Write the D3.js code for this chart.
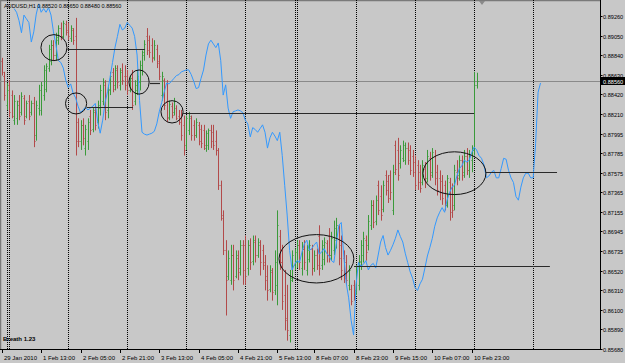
<!DOCTYPE html>
<html>
<head>
<meta charset="utf-8">
<script src="https://cdn.jsdelivr.net/npm/d3@7/dist/d3.min.js"></script>
<style>
  html, body { margin: 0; padding: 0; background: #c8c8c8; }
  svg { display: block; }
  text { font-family: "Liberation Sans", Arial, sans-serif; }
</style>
</head>
<body>
<svg id="chart"></svg>
<script>
// header text
var chartTitle = 'AUDUSD,H1  0.88520 0.88650 0.88480 0.88560';
var indicatorName = 'Breath 1.23';
var lastPrice = 0.88560;

// H1 bars, oldest first (bar 0 = 29 Jan 2010 evening)
var opens = [
  .8878, .8862, .8830, .8852, .8841, .8814, .8816, .8835, .8823, .8838,
  .8819, .8835, .8823, .8833, .8798, .8827, .8825, .8841, .8848, .8870,
  .8878, .8895, .8884, .8900, .8913, .8905, .8917, .8911, .8902, .8911,
  .8905, .8812, .8792, .8809, .8784, .8792, .8819, .8805, .8825, .8812,
  .8827, .8835, .8852, .8825, .8846, .8866, .8852, .8868, .8852, .8868,
  .8862, .8862, .8846, .8859, .8835, .8846, .8855, .8868, .8884, .8905,
  .8900, .8895, .8882, .8891, .8878, .8841, .8857, .8835, .8817, .8829,
  .8823, .8827, .8819, .8816, .8809, .8787, .8803, .8816, .8809, .8798,
  .8809, .8805, .8803, .8784, .8787, .8803, .8801, .8792, .8782, .8744,
  .8712, .8674, .8647, .8642, .8669, .8647, .8666, .8655, .8680, .8680,
  .8655, .8680, .8663, .8683, .8669, .8680, .8674, .8661, .8647, .8633,
  .8651, .8631, .8637, .8690, .8661, .8626, .8601, .8583, .8644, .8658,
  .8661, .8680, .8655, .8676, .8653, .8665, .8676, .8655, .8669, .8690,
  .8658, .8665, .8682, .8690, .8669, .8674, .8685, .8698, .8680, .8666,
  .8661, .8637, .8633, .8637, .8631, .8637, .8661, .8669, .8685, .8680,
  .8701, .8723, .8706, .8744, .8733, .8719, .8755, .8749, .8755, .8717,
  .8787, .8782, .8768, .8773, .8771, .8784, .8782, .8776, .8769, .8766,
  .8758, .8747, .8762, .8752, .8773, .8758, .8776, .8758, .8752, .8749,
  .8744, .8723, .8747, .8741, .8723, .8758, .8755, .8771, .8758, .8776,
  .8760, .8771, .8782, .8852
];
var highs = [
  .8881, .8866, .8854, .8857, .8846, .8841, .8835, .8841, .8844, .8841,
  .8835, .8841, .8835, .8839, .8835, .8852, .8855, .8873, .8875, .8895,
  .8900, .8900, .8908, .8916, .8919, .8921, .8921, .8919, .8916, .8913,
  .8924, .8816, .8814, .8816, .8809, .8816, .8825, .8827, .8830, .8835,
  .8852, .8859, .8857, .8852, .8866, .8870, .8873, .8873, .8870, .8875,
  .8873, .8868, .8862, .8868, .8857, .8868, .8878, .8889, .8900, .8913,
  .8905, .8902, .8900, .8895, .8884, .8866, .8859, .8857, .8835, .8833,
  .8838, .8830, .8825, .8825, .8819, .8819, .8823, .8819, .8814, .8816,
  .8812, .8809, .8809, .8803, .8805, .8809, .8809, .8803, .8784, .8749,
  .8717, .8685, .8674, .8680, .8680, .8674, .8674, .8685, .8685, .8690,
  .8685, .8687, .8690, .8690, .8687, .8685, .8680, .8669, .8658, .8658,
  .8655, .8674, .8717, .8696, .8680, .8653, .8637, .8653, .8674, .8676,
  .8685, .8685, .8683, .8685, .8680, .8685, .8680, .8674, .8676, .8701,
  .8685, .8688, .8685, .8698, .8694, .8706, .8709, .8701, .8690, .8674,
  .8669, .8658, .8637, .8642, .8658, .8669, .8685, .8694, .8690, .8712,
  .8728, .8728, .8733, .8749, .8744, .8749, .8760, .8755, .8760, .8766,
  .8792, .8795, .8787, .8792, .8790, .8790, .8787, .8782, .8776, .8771,
  .8766, .8771, .8769, .8782, .8780, .8784, .8782, .8766, .8760, .8755,
  .8749, .8755, .8752, .8746, .8766, .8771, .8776, .8776, .8782, .8784,
  .8782, .8787, .8866, .8865
];
var lows = [
  .8862, .8835, .8825, .8817, .8816, .8809, .8809, .8814, .8819, .8809,
  .8816, .8814, .8819, .8785, .8792, .8819, .8819, .8835, .8844, .8866,
  .8873, .8878, .8878, .8895, .8900, .8902, .8905, .8900, .8898, .8895,
  .8776, .8785, .8782, .8787, .8776, .8782, .8798, .8801, .8803, .8805,
  .8819, .8830, .8814, .8816, .8841, .8844, .8846, .8848, .8846, .8852,
  .8846, .8841, .8844, .8825, .8830, .8841, .8846, .8862, .8878, .8884,
  .8881, .8876, .8878, .8870, .8857, .8835, .8825, .8812, .8814, .8816,
  .8819, .8814, .8809, .8792, .8776, .8782, .8798, .8792, .8792, .8795,
  .8787, .8784, .8782, .8780, .8782, .8784, .8782, .8776, .8739, .8706,
  .8669, .8604, .8642, .8637, .8631, .8644, .8642, .8647, .8637, .8637,
  .8647, .8653, .8658, .8661, .8666, .8647, .8653, .8631, .8620, .8629,
  .8620, .8626, .8615, .8653, .8610, .8588, .8577, .8575, .8640, .8653,
  .8655, .8653, .8647, .8653, .8647, .8661, .8647, .8651, .8653, .8647,
  .8653, .8658, .8661, .8661, .8663, .8669, .8676, .8658, .8642, .8639,
  .8637, .8631, .8615, .8620, .8626, .8631, .8653, .8661, .8663, .8674,
  .8696, .8698, .8701, .8712, .8706, .8715, .8733, .8725, .8728, .8712,
  .8755, .8749, .8762, .8769, .8766, .8766, .8755, .8753, .8739, .8739,
  .8736, .8744, .8741, .8747, .8749, .8752, .8744, .8733, .8728, .8723,
  .8717, .8720, .8706, .8709, .8717, .8744, .8749, .8749, .8752, .8755,
  .8752, .8758, .8776, .8848
];
var closes = [
  .8866, .8841, .8846, .8823, .8819, .8835, .8830, .8819, .8840, .8814,
  .8832, .8819, .8833, .8792, .8830, .8846, .8852, .8868, .8872, .8891,
  .8895, .8884, .8903, .8913, .8905, .8918, .8909, .8904, .8913, .8900,
  .8792, .8792, .8809, .8795, .8805, .8812, .8803, .8823, .8809, .8830,
  .8846, .8855, .8823, .8848, .8862, .8848, .8870, .8855, .8866, .8857,
  .8852, .8846, .8859, .8830, .8852, .8862, .8873, .8887, .8896, .8889,
  .8887, .8881, .8895, .8876, .8862, .8861, .8830, .8816, .8831, .8820,
  .8835, .8816, .8812, .8798, .8782, .8816, .8819, .8798, .8798, .8812,
  .8792, .8790, .8787, .8800, .8803, .8792, .8787, .8782, .8744, .8709,
  .8674, .8642, .8666, .8669, .8642, .8669, .8651, .8680, .8653, .8647,
  .8680, .8661, .8685, .8669, .8683, .8661, .8658, .8642, .8631, .8653,
  .8629, .8661, .8701, .8661, .8620, .8599, .8588, .8642, .8669, .8672,
  .8680, .8661, .8676, .8661, .8674, .8680, .8655, .8669, .8658, .8655,
  .8680, .8683, .8669, .8669, .8687, .8698, .8701, .8666, .8653, .8644,
  .8642, .8653, .8620, .8626, .8653, .8663, .8680, .8687, .8672, .8706,
  .8723, .8704, .8728, .8717, .8712, .8744, .8739, .8730, .8737, .8758,
  .8762, .8755, .8782, .8787, .8784, .8771, .8760, .8758, .8744, .8747,
  .8741, .8766, .8749, .8776, .8755, .8780, .8752, .8739, .8737, .8730,
  .8723, .8752, .8715, .8717, .8760, .8752, .8771, .8755, .8776, .8760,
  .8776, .8782, .8852, .8856
];

// blue indicator line, one value per bar starting at bar 5 (runs past the last bar)
var blueStart = 5;
var blueLine = [
  .8934, .8930, .8921, .8908, .8927, .8923, .8919, .8898, .8909, .8928,
  .8939, .8930, .8934, .8930, .8935, .8927, .8909, .8895, .8878, .8876,
  .8870, .8857, .8849, .8853, .8843, .8838, .8829, .8822, .8825, .8828,
  .8825, .8827, .8829, .8832, .8812, .8800, .8814, .8833, .8845, .8860,
  .8876, .8892, .8904, .8917, .8911, .8913, .8919, .8916, .8913, .8904,
  .8884, .8835, .8801, .8799, .8798, .8799, .8800, .8802, .8810, .8823,
  .8833, .8844, .8854, .8853, .8856, .8859, .8862, .8863, .8866, .8867,
  .8868, .8868, .8863, .8856, .8848, .8849, .8859, .8868, .8884, .8896,
  .8900, .8896, .8892, .8897, .8878, .8841, .8852, .8827, .8816, .8823,
  .8824, .8825, .8824, .8822, .8814, .8810, .8796, .8806, .8804, .8801,
  .8805, .8809, .8801, .8784, .8795, .8801, .8797, .8792, .8801, .8776,
  .8744, .8712, .8674, .8653, .8659, .8663, .8661, .8672, .8681, .8685,
  .8674, .8676, .8680, .8683, .8670, .8672, .8676, .8671, .8668, .8663,
  .8661, .8682, .8701, .8704, .8669, .8639, .8623, .8599, .8583, .8637,
  .8661, .8657, .8659, .8663, .8653, .8658, .8660, .8655, .8669, .8683,
  .8690, .8677, .8669, .8674, .8680, .8687, .8696, .8689, .8683, .8671,
  .8661, .8651, .8644, .8634, .8631, .8638, .8643, .8655, .8668, .8677,
  .8687, .8700, .8709, .8715, .8720, .8715, .8728, .8736, .8742, .8744,
  .8754, .8762, .8765, .8771, .8769, .8771, .8779, .8785, .8782, .8776,
  .8773, .8766, .8752, .8754, .8758, .8760, .8752, .8752, .8762, .8773,
  .8772, .8760, .8752, .8747, .8732, .8728, .8742, .8752, .8757, .8757,
  .8752, .8752, .8789, .8844, .8854
];

// price scale labels
var priceTicks = ['0.89260', '0.89050', '0.88840', '0.88630', '0.88420', '0.88210',
  '0.87995', '0.87785', '0.87575', '0.87365', '0.87155', '0.86945', '0.86735',
  '0.86520', '0.86310', '0.86100', '0.85890', '0.85680'];

// time scale labels and the bar each one sits on
var timeLabels = ['29 Jan 2010', '1 Feb 13:00', '2 Feb 05:00', '2 Feb 21:00', '3 Feb 13:00',
  '4 Feb 05:00', '4 Feb 21:00', '5 Feb 13:00', '8 Feb 07:00', '8 Feb 23:00',
  '9 Feb 15:00', '10 Feb 07:00', '10 Feb 23:00'];
var timeLabelBars = [0, 16, 32, 48, 64, 80, 96, 112, 127, 143, 159, 175, 191];

// day separators (first bar of each day)
var separatorBars = [2, 3, 27, 51, 75, 99, 119, 120, 144, 168, 192, 216];

// drawn objects: ellipses (centre bar, centre price, radius in bars, radius in price)
var ellipseBars = [21.2, 30.2, 55.8, 69.2, 127.9, 184.0];
var ellipsePrices = [.8892, .8832, .8855, .8823, .8665, .8757];
var ellipseBarRadius = [5.3, 4.3, 4.1, 4.5, 15.2, 12.8];
var ellipsePriceRadius = [.0014, .00113, .0013, .0012, .0026, .0023];

// drawn horizontal segments (from bar, to bar, price)
var segFrom = [26.7, 34.6, 60.2, 73.7, 143.2, 196.8];
var segTo = [58.2, 53.3, 64.3, 192, 222.8, 225.7];
var segPrice = [.8891, .8828, .8854, .8822, .8657, .8758];

var width = 625, height = 363;
var plotRight = 600, plotBottom = 349;
var upColor = '#3a9a3a', downColor = '#b24a4a', blueColor = '#3399ff';

var x = d3.scaleLinear().domain([0, 100]).range([1.8, 247.8]);
var y = d3.scaleLinear().domain([0.8568, 0.8926]).range([349, 16]);

var svg = d3.select('#chart')
  .attr('width', width)
  .attr('height', height);

svg.append('rect')
  .attr('width', width).attr('height', height)
  .attr('fill', '#c8c8c8');

svg.append('defs').append('clipPath').attr('id', 'plot-clip')
  .append('rect').attr('x', 0).attr('y', 0).attr('width', plotRight).attr('height', plotBottom);

var plot = svg.append('g').attr('clip-path', 'url(#plot-clip)');

// frame top / left
plot.append('path')
  .attr('d', 'M0.5,' + plotBottom + 'V0.5H' + plotRight)
  .attr('fill', 'none')
  .attr('stroke', '#7a7a7a')
  .attr('stroke-width', 1.5);

// period separators
plot.selectAll('line.sep')
  .data(separatorBars)
  .enter().append('line')
  .attr('class', 'sep')
  .attr('x1', function(d) { return Math.round(x(d)) + 0.5; })
  .attr('x2', function(d) { return Math.round(x(d)) + 0.5; })
  .attr('y1', 0).attr('y2', plotBottom)
  .attr('stroke', '#000')
  .attr('stroke-dasharray', '1,1')
  .attr('shape-rendering', 'crispEdges');

// bid line
plot.append('line')
  .attr('x1', 0).attr('x2', plotRight)
  .attr('y1', Math.round(y(lastPrice)) + 0.5).attr('y2', Math.round(y(lastPrice)) + 0.5)
  .attr('stroke', '#8a8a8a');

// OHLC bars
var bars = opens.map(function(o, i) {
  return { i: i, o: o, h: highs[i], l: lows[i], c: closes[i] };
});

plot.selectAll('path.bar')
  .data(bars)
  .enter().append('path')
  .attr('class', 'bar')
  .attr('d', function(d) {
    var cx = Math.round(x(d.i)) + 0.5;
    var yo = Math.round(y(d.o)) + 0.5, yc = Math.round(y(d.c)) + 0.5;
    return 'M' + cx + ',' + y(d.h) + 'V' + y(d.l) +
      'M' + (cx - 1) + ',' + yo + 'H' + cx +
      'M' + cx + ',' + yc + 'H' + (cx + 1);
  })
  .attr('fill', 'none')
  .attr('stroke', function(d) { return d.c >= d.o ? upColor : downColor; })
  .attr('stroke-width', 1);

// indicator line
var blueGen = d3.line()
  .x(function(d, k) { return x(blueStart + k); })
  .y(function(d) { return y(d); });

plot.append('path')
  .datum(blueLine)
  .attr('d', blueGen)
  .attr('fill', 'none')
  .attr('stroke', blueColor)
  .attr('stroke-width', 1);

// ellipses and horizontal segments
plot.selectAll('ellipse.obj')
  .data(ellipseBars)
  .enter().append('ellipse')
  .attr('class', 'obj')
  .attr('cx', function(d) { return x(d); })
  .attr('cy', function(d, k) { return y(ellipsePrices[k]); })
  .attr('rx', function(d, k) { return x(ellipseBarRadius[k]) - x(0); })
  .attr('ry', function(d, k) { return y(ellipsePrices[k] - ellipsePriceRadius[k]) - y(ellipsePrices[k]); })
  .attr('fill', 'none')
  .attr('stroke', '#111')
  .attr('stroke-width', 1);

plot.selectAll('line.seg')
  .data(segPrice)
  .enter().append('line')
  .attr('class', 'seg')
  .attr('x1', function(d, k) { return x(segFrom[k]); })
  .attr('x2', function(d, k) { return x(segTo[k]); })
  .attr('y1', function(d) { return Math.round(y(d)) + 0.5; })
  .attr('y2', function(d) { return Math.round(y(d)) + 0.5; })
  .attr('stroke', '#2a2a2a')
  .attr('stroke-width', 1.2);

// chart shift marker
plot.append('path')
  .attr('d', 'M479,1L485,1L482,5Z')
  .attr('fill', '#8a8a8a');

// title and indicator name
svg.append('text')
  .attr('x', 4).attr('y', 8)
  .attr('font-size', 5.5)
  .attr('fill', '#000')
  .text(chartTitle);

svg.append('text')
  .attr('x', 3).attr('y', 341)
  .attr('font-size', 6)
  .attr('font-weight', 'bold')
  .attr('font-family', '"DejaVu Sans Mono", monospace')
  .attr('fill', '#000')
  .text(indicatorName);

// axes
svg.append('path')
  .attr('d', 'M' + (plotRight + 0.5) + ',0V' + (plotBottom + 0.5) + 'H0')
  .attr('fill', 'none')
  .attr('stroke', '#000')
  .attr('stroke-width', 1);

var yTicks = svg.append('g').selectAll('g')
  .data(priceTicks)
  .enter().append('g')
  .attr('transform', function(d) { return 'translate(' + plotRight + ',' + Math.round(y(+d)) + ')'; });

yTicks.append('line')
  .attr('x1', 0).attr('x2', 2.5)
  .attr('y1', 0.5).attr('y2', 0.5)
  .attr('stroke', '#000');

yTicks.append('text')
  .attr('x', 3).attr('y', 2.5)
  .attr('font-size', 5.6)
  .attr('fill', '#000')
  .text(function(d) { return d; });

// last price box
var lp = Math.round(y(lastPrice));
svg.append('rect')
  .attr('x', plotRight + 1).attr('y', lp - 4)
  .attr('width', 24).attr('height', 8)
  .attr('fill', '#000');
svg.append('text')
  .attr('x', plotRight + 3).attr('y', lp + 2.5)
  .attr('font-size', 5.6)
  .attr('fill', '#fff')
  .text(lastPrice.toFixed(5));

var xTicks = svg.append('g').selectAll('g')
  .data(timeLabels)
  .enter().append('g')
  .attr('transform', function(d, k) { return 'translate(' + Math.round(x(timeLabelBars[k])) + ',' + plotBottom + ')'; });

xTicks.append('line')
  .attr('x1', 0.5).attr('x2', 0.5)
  .attr('y1', 0).attr('y2', 4)
  .attr('stroke', '#000');

xTicks.append('text')
  .attr('x', 2).attr('y', 11)
  .attr('font-size', 6)
  .attr('fill', '#000')
  .text(function(d) { return d; });
</script>
</body>
</html>
